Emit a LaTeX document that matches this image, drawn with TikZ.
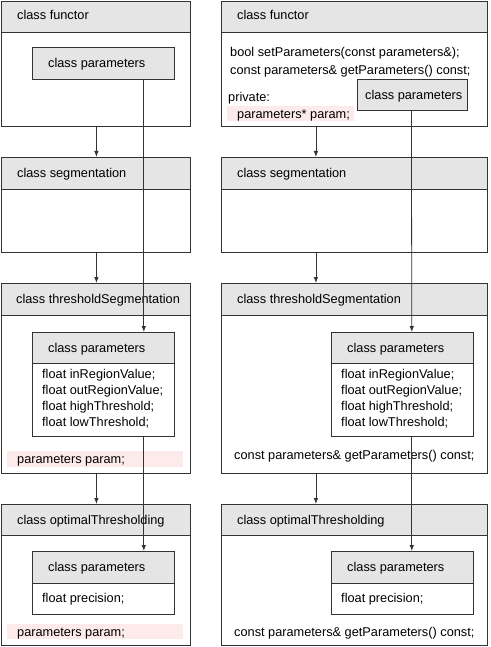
\documentclass[tikz,border=0pt]{standalone}
\usepackage{fontspec}
\setmainfont{Liberation Sans}
\usetikzlibrary{arrows.meta}
\definecolor{hdr}{HTML}{E5E5E5}
\definecolor{pinkbg}{HTML}{FDEAEA}
\definecolor{ln}{HTML}{333333}
\tikzset{
  box/.style={draw=ln, line width=0.8pt, fill=white, rectangle, inner sep=0pt, anchor=north west},
  hdrbox/.style={draw=ln, line width=0.8pt, fill=hdr, rectangle, inner sep=0pt, anchor=north west},
  pinkbox/.style={fill=pinkbg, rectangle, inner sep=0pt, anchor=north west},
  txt/.style={inner sep=0pt, anchor=west, text height=9pt, text depth=0pt, font=\fontsize{12.75}{14}\selectfont},
  arr/.style={draw=ln, line width=0.8pt, -{Latex[length=6pt,width=4.5pt]}},
  ln/.style={draw=ln, line width=0.8pt}
}
\newcommand{\bx}[5]{% name, x, y, w, h
  \node[box, minimum width=#4pt, minimum height=#5pt] (#1) at (#2,#3) {};}
\newcommand{\hbx}[5]{%
  \node[hdrbox, minimum width=#4pt, minimum height=#5pt] (#1) at (#2,#3) {};}
\begin{document}
\begin{tikzpicture}[x=1pt,y=-1pt]
\useasboundingbox (0,0) rectangle (490,647);
\fill[white] (0,0) rectangle (490,647);

% ---------- left column ----------
% row 1
\bx{lf}{1}{1}{189}{125}
\hbx{lfh}{1}{1}{189}{31}
\node[txt] (lft) at (17,15.5) {class functor};
\hbx{lp1}{32}{47}{142}{32}
\node[txt] (lp1t) at (48,63) {class parameters};
% row 2
\bx{ls}{1}{157}{189}{95}
\hbx{lsh}{1}{157}{189}{32}
\node[txt] (lst) at (17,173) {class segmentation};
% row 3
\bx{lt}{1}{283}{189}{190}
\hbx{lth}{1}{283}{189}{32}
\node[txt] (ltt) at (16,299) {class thresholdSegmentation};
\bx{lp3}{32}{332}{142}{104}
\hbx{lp3h}{32}{332}{142}{31}
\node[txt] (lp3t) at (48,347.5) {class parameters};
\node[txt] (lp3a) at (42,374) {float inRegionValue;};
\node[txt] (lp3b) at (42,390) {float outRegionValue;};
\node[txt] (lp3c) at (42,406) {float highThreshold;};
\node[txt] (lp3d) at (42,422) {float lowThreshold;};
\node[pinkbox, minimum width=176pt, minimum height=16pt] (lpk3) at (7,451) {};
\node[txt] (lpk3t) at (17,459) {parameters param;};
% row 4
\bx{lo}{1}{504}{189}{141}
\hbx{loh}{1}{504}{189}{31}
\node[txt] (lot) at (17,519.5) {class optimalThresholding};
\bx{lp4}{32}{551}{142}{63}
\hbx{lp4h}{32}{551}{142}{32}
\node[txt] (lp4t) at (48,567) {class parameters};
\node[txt] (lp4a) at (42,598) {float precision;};
\node[pinkbox, minimum width=176pt, minimum height=15pt] (lpk4) at (7,624) {};
\node[txt] (lpk4t) at (17,632) {parameters param;};

% ---------- right column ----------
% row 1
\bx{rf}{221}{1}{266}{125}
\hbx{rfh}{221}{1}{266}{31}
\node[txt] (rft) at (237,15.5) {class functor};
\node[txt] (rf1) at (230,52) {bool setParameters(const parameters\&);};
\node[txt] (rf2) at (230,70) {const parameters\& getParameters() const;};
\node[txt] (rf3) at (228,97) {private:};
\node[pinkbox, minimum width=127pt, minimum height=15pt] (rpk1) at (227,106) {};
\node[txt] (rf4) at (237,114) {parameters* param;};
\hbx{rp1}{357}{79}{110}{31}
\node[txt] (rp1t) at (365,95) {class parameters};
% row 2
\bx{rs}{221}{157}{266}{95}
\hbx{rsh}{221}{157}{266}{32}
\node[txt] (rst) at (237,173) {class segmentation};
% row 3
\bx{rt}{221}{283}{266}{190}
\hbx{rth}{221}{283}{266}{32}
\node[txt] (rtt) at (237,299) {class thresholdSegmentation};
\bx{rp3}{331}{332}{142}{104}
\hbx{rp3h}{331}{332}{142}{31}
\node[txt] (rp3t) at (347,347.5) {class parameters};
\node[txt] (rp3a) at (341,374) {float inRegionValue;};
\node[txt] (rp3b) at (341,390) {float outRegionValue;};
\node[txt] (rp3c) at (341,406) {float highThreshold;};
\node[txt] (rp3d) at (341,422) {float lowThreshold;};
\node[txt] (rt1) at (234,455) {const parameters\& getParameters() const;};
% row 4
\bx{ro}{221}{504}{266}{141}
\hbx{roh}{221}{504}{266}{31}
\node[txt] (rot) at (237,519.5) {class optimalThresholding};
\bx{rp4}{331}{551}{142}{63}
\hbx{rp4h}{331}{551}{142}{32}
\node[txt] (rp4t) at (347,567) {class parameters};
\node[txt] (rp4a) at (341,598) {float precision;};
\node[txt] (rt2) at (234,632) {const parameters\& getParameters() const;};

% ---------- connectors ----------
\draw[arr] ([xshift=0.5pt]lf.south) -- ([xshift=0.5pt]ls.north);
\draw[arr] ([xshift=0.5pt]ls.south) -- ([xshift=0.5pt]lt.north);
\draw[arr] ([xshift=0.5pt]lt.south) -- ([xshift=0.5pt]lo.north);
\draw[arr] ([xshift=-31pt]lp1.south east) -- ([xshift=-31pt]lp3.north east);
\draw[arr] ([xshift=-31pt]lp3.south east) -- ([xshift=-31pt]lp4.north east);

\draw[arr] ([xshift=-38.5pt]rf.south) -- ([xshift=-38.5pt]rs.north);
\draw[arr] ([xshift=-38.5pt]rs.south) -- ([xshift=-38.5pt]rt.north);
\draw[arr] ([xshift=-38.5pt]rt.south) -- ([xshift=-38.5pt]ro.north);
\draw[arr] ([xshift=-1pt]rp1.south) -- ([xshift=-62pt]rp3.north east);
\draw[arr] ([xshift=-62pt]rp3.south east) -- ([xshift=-62pt]rp4.north east);
\end{tikzpicture}
\end{document}
